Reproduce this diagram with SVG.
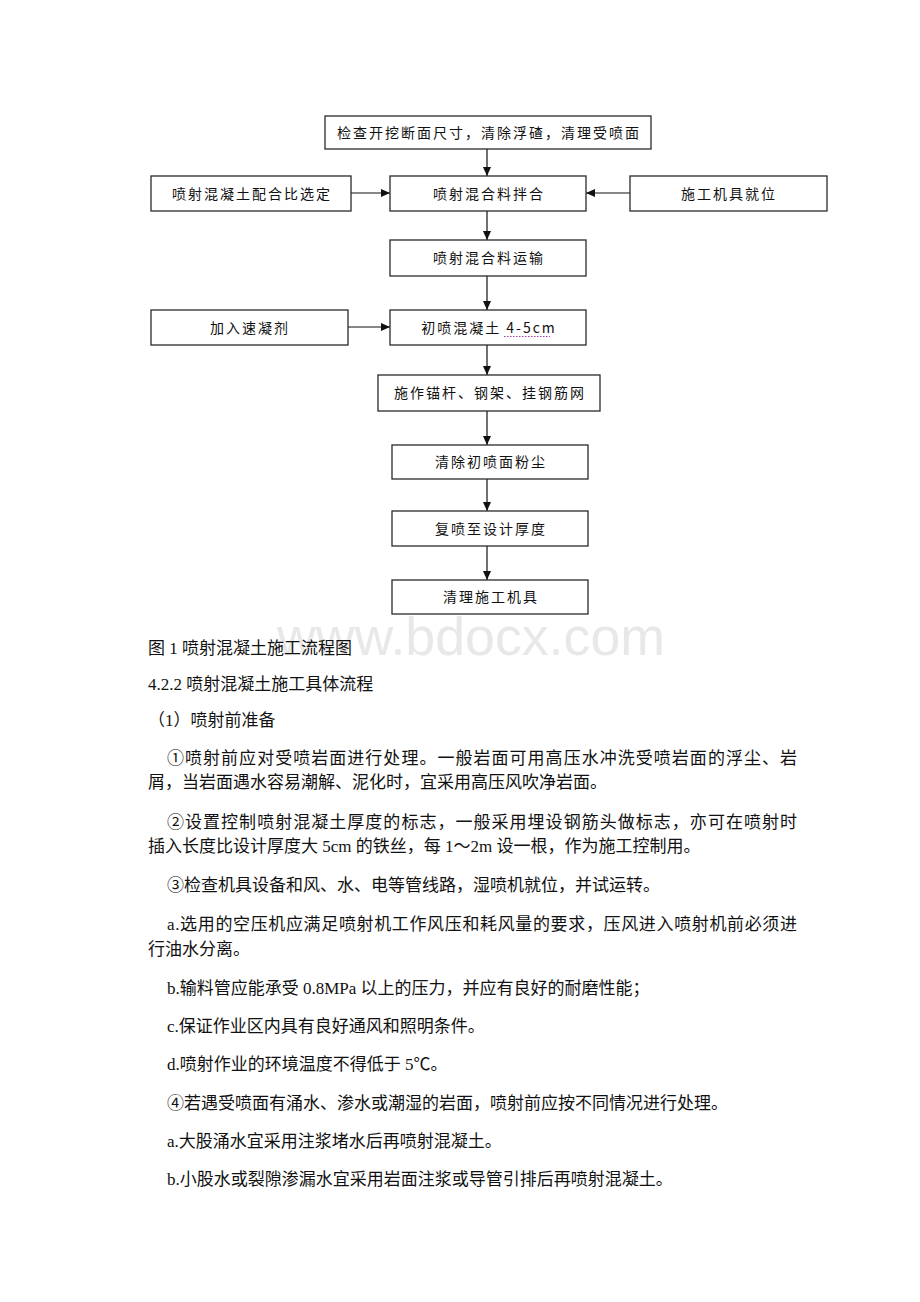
<svg xmlns="http://www.w3.org/2000/svg" width="920" height="1302" viewBox="0 0 920 1302">
<style>
.box{fill:#fff;stroke:#2a2a2a;stroke-width:1.3}
.bt{font-family:"Noto Sans CJK SC","Liberation Sans",sans-serif;font-size:14px;letter-spacing:2px;fill:#111;text-anchor:middle}
.cn{stroke:#111;stroke-width:1.2;fill:none;marker-end:url(#ah)}
.body{font-family:"Liberation Serif","Noto Sans CJK SC",serif;font-size:17px;fill:#111}
.wm{font-family:"Liberation Sans",sans-serif;font-size:54px;fill:#e8e8e8}
</style>
<defs>
<marker id="ah" markerUnits="userSpaceOnUse" markerWidth="10" markerHeight="8" refX="9" refY="4" orient="auto">
<path d="M0,0 L9,4 L0,8 z" fill="#111"/>
</marker>
</defs>
<rect width="920" height="1302" fill="#fff"/>
<text class="wm" x="277" y="655" textLength="388" lengthAdjust="spacingAndGlyphs">www.bdocx.com</text>

<g id="connectors">
<line class="cn" x1="487" y1="149" x2="487" y2="176"/>
<line class="cn" x1="351" y1="193" x2="390" y2="193"/>
<line class="cn" x1="630" y1="193" x2="586" y2="193"/>
<line class="cn" x1="487" y1="211" x2="487" y2="240"/>
<line class="cn" x1="487" y1="276" x2="487" y2="310"/>
<line class="cn" x1="348" y1="327" x2="390" y2="327"/>
<line class="cn" x1="487" y1="345" x2="487" y2="375"/>
<line class="cn" x1="487" y1="411" x2="487" y2="445"/>
<line class="cn" x1="487" y1="479" x2="487" y2="511"/>
<line class="cn" x1="487" y1="546" x2="487" y2="580"/>
</g>

<g id="n1"><rect class="box" x="325" y="116" width="326" height="33"/><text class="bt" x="489" y="137.5">检查开挖断面尺寸，清除浮碴，清理受喷面</text></g>
<g id="n2"><rect class="box" x="151" y="176" width="200" height="35"/><text class="bt" x="252" y="198.5">喷射混凝土配合比选定</text></g>
<g id="n3"><rect class="box" x="390" y="176" width="196" height="35"/><text class="bt" x="489" y="198.5">喷射混合料拌合</text></g>
<g id="n4"><rect class="box" x="630" y="176" width="197" height="35"/><text class="bt" x="729" y="198.5">施工机具就位</text></g>
<g id="n5"><rect class="box" x="390" y="240" width="196" height="36"/><text class="bt" x="489" y="263">喷射混合料运输</text></g>
<g id="n6"><rect class="box" x="151" y="310" width="197" height="35"/><text class="bt" x="250" y="332.5">加入速凝剂</text></g>
<g id="n7"><rect class="box" x="390" y="310" width="196" height="35"/><text class="bt" x="489" y="332.5">初喷混凝土 4-5cm</text><line x1="504" y1="336.5" x2="550" y2="336.5" stroke="#a040a0" stroke-width="1" stroke-dasharray="1.5,1.5"/></g>
<g id="n8"><rect class="box" x="378" y="375" width="222" height="36"/><text class="bt" x="490" y="398">施作锚杆、钢架、挂钢筋网</text></g>
<g id="n9"><rect class="box" x="392" y="445" width="196" height="34"/><text class="bt" x="491" y="467">清除初喷面粉尘</text></g>
<g id="n10"><rect class="box" x="392" y="511" width="196" height="35"/><text class="bt" x="491" y="533.5">复喷至设计厚度</text></g>
<g id="n11"><rect class="box" x="392" y="580" width="196" height="34"/><text class="bt" x="491" y="602">清理施工机具</text></g>

<g id="body-text">
<text class="body" x="148" y="654">图 1 喷射混凝土施工流程图</text>
<text class="body" x="148" y="690">4.2.2 喷射混凝土施工具体流程</text>
<text class="body" x="148" y="726">（1）喷射前准备</text>
<text class="body" x="167" y="764" textLength="630" lengthAdjust="spacing">①喷射前应对受喷岩面进行处理。一般岩面可用高压水冲洗受喷岩面的浮尘、岩</text>
<text class="body" x="148" y="788">屑，当岩面遇水容易潮解、泥化时，宜采用高压风吹净岩面。</text>
<text class="body" x="167" y="828" textLength="630" lengthAdjust="spacing">②设置控制喷射混凝土厚度的标志，一般采用埋设钢筋头做标志，亦可在喷射时</text>
<text class="body" x="148" y="852">插入长度比设计厚度大 5cm 的铁丝，每 1～2m 设一根，作为施工控制用。</text>
<text class="body" x="167" y="891">③检查机具设备和风、水、电等管线路，湿喷机就位，并试运转。</text>
<text class="body" x="167" y="930" textLength="630" lengthAdjust="spacing">a.选用的空压机应满足喷射机工作风压和耗风量的要求，压风进入喷射机前必须进</text>
<text class="body" x="148" y="955">行油水分离。</text>
<text class="body" x="167" y="994">b.输料管应能承受 0.8MPa 以上的压力，并应有良好的耐磨性能；</text>
<text class="body" x="167" y="1032">c.保证作业区内具有良好通风和照明条件。</text>
<text class="body" x="167" y="1070">d.喷射作业的环境温度不得低于 5℃。</text>
<text class="body" x="167" y="1109">④若遇受喷面有涌水、渗水或潮湿的岩面，喷射前应按不同情况进行处理。</text>
<text class="body" x="167" y="1147">a.大股涌水宜采用注浆堵水后再喷射混凝土。</text>
<text class="body" x="167" y="1185">b.小股水或裂隙渗漏水宜采用岩面注浆或导管引排后再喷射混凝土。</text>
</g>
</svg>
